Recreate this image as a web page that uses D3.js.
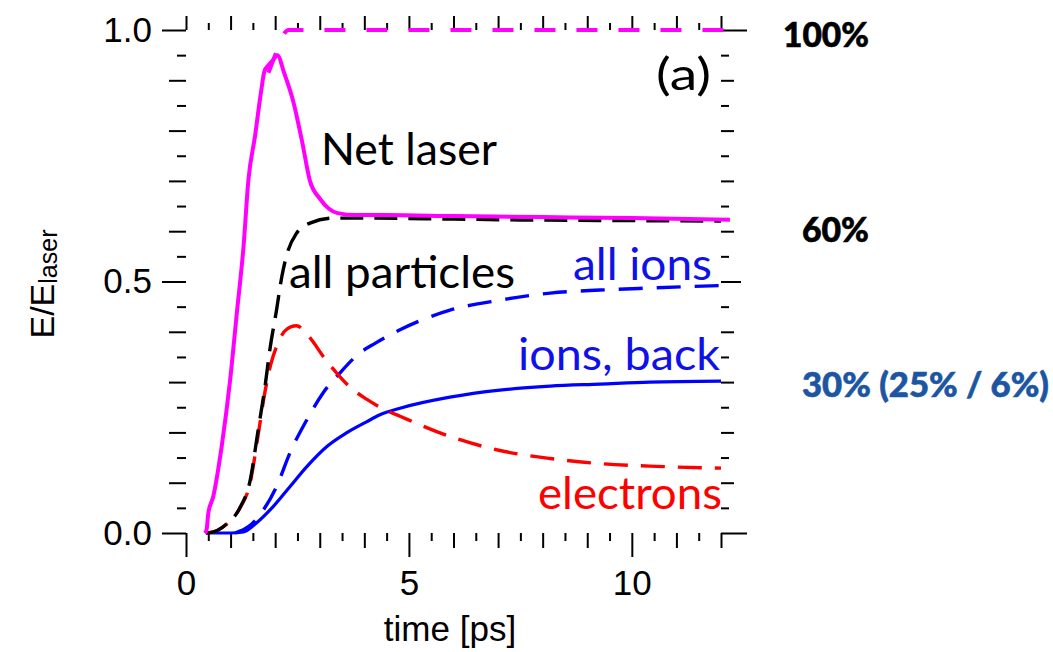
<!DOCTYPE html>
<html>
<head>
<meta charset="utf-8">
<script src="https://cdn.jsdelivr.net/npm/d3@7/dist/d3.min.js"></script>
<style>
  html, body { margin: 0; padding: 0; background: #fff; }
  svg { display: block; }
</style>
</head>
<body>
<svg id="chart" width="1053" height="652"></svg>
<script>
// ---- data ----
const netLaserT = [0.42, 0.46, 0.5, 0.61, 0.8, 0.99, 1.14, 1.29, 1.4, 1.55, 1.68, 1.76, 1.85, 1.95, 2.05, 2.2, 2.4, 2.6, 2.78, 3.0, 3.2, 3.4, 3.8, 4.5, 6, 8, 10, 12.2];
const netLaserE = [0.0, 0.006, 0.039, 0.072, 0.172, 0.304, 0.437, 0.569, 0.702, 0.79, 0.875, 0.918, 0.93, 0.94, 0.95, 0.915, 0.86, 0.78, 0.70, 0.665, 0.645, 0.636, 0.632, 0.632, 0.63, 0.628, 0.626, 0.623];

const totalLaserT = [1.85, 2.0, 2.15, 2.3, 12.2];
const totalLaserE = [0.915, 0.95, 0.985, 1.0, 1.0];

const allParticlesT = [0.45, 0.7, 0.94, 1.21, 1.44, 1.61, 1.77, 1.88, 2.03, 2.15, 2.26, 2.48, 2.78, 3.3, 4.05, 6, 8, 10, 12];
const allParticlesE = [0.0, 0.005, 0.02, 0.05, 0.105, 0.2, 0.29, 0.364, 0.443, 0.51, 0.553, 0.596, 0.616, 0.626, 0.626, 0.624, 0.622, 0.621, 0.62];

const electronsT = [0.45, 0.7, 0.94, 1.21, 1.44, 1.61, 1.77, 1.9, 2.05, 2.2, 2.35, 2.48, 2.65, 2.85, 3.07, 3.38, 3.68, 4.05, 4.46, 4.8, 5.92, 7.04, 8.17, 9.29, 10.4, 12];
const electronsE = [0.0, 0.005, 0.02, 0.05, 0.1, 0.19, 0.28, 0.335, 0.375, 0.4, 0.41, 0.412, 0.402, 0.38, 0.352, 0.318, 0.29, 0.266, 0.245, 0.232, 0.192, 0.164, 0.148, 0.138, 0.133, 0.129];

const allIonsT = [1.1, 1.4, 1.73, 2.03, 2.33, 2.71, 3.07, 3.45, 3.9, 4.24, 4.8, 5.92, 7.04, 8.17, 9.29, 10.4, 12];
const allIonsE = [0.0, 0.0125, 0.045, 0.092, 0.159, 0.225, 0.278, 0.318, 0.358, 0.377, 0.404, 0.443, 0.463, 0.477, 0.483, 0.487, 0.492];

const ionsBackT = [0.45, 1.0, 1.29, 1.58, 1.95, 2.33, 2.71, 3.16, 3.6, 4.05, 4.35, 4.8, 5.92, 7.04, 8.17, 9.29, 10.4, 12];
const ionsBackE = [0.0, 0.0, 0.002, 0.02, 0.052, 0.092, 0.132, 0.172, 0.199, 0.221, 0.235, 0.248, 0.27, 0.284, 0.292, 0.296, 0.3, 0.302];

const xTickValues = [0, 5, 10];
const xTickLabels = ["0", "5", "10"];
const yTickValues = [0, 0.5, 1.0];
const yTickLabels = ["0.0", "0.5", "1.0"];

const curveLabels = ["Net laser", "all particles", "all ions", "ions, back", "electrons", "(a)"];
const sideLabels = ["100%", "60%", "30% (25% / 6%)"];

// ---- layout ----
const svg = d3.select("#chart");
const x = d3.scaleLinear().domain([0, 12]).range([186, 721]);
const y = d3.scaleLinear().domain([0, 1]).range([533, 30]);

const halfSteps = d3.range(0.5, 12, 1);
const intSteps = d3.range(0, 13, 1).filter(v => v % 5 !== 0 || v === 12);
const yFine = d3.range(0.05, 1, 0.1).map(v => +v.toFixed(2));
const yTenth = [0.1, 0.2, 0.3, 0.4, 0.6, 0.7, 0.8, 0.9];

function styleAxis(g) {
  g.select(".domain").remove();
  g.selectAll(".tick line").attr("stroke", "#000").attr("stroke-width", 2);
  g.selectAll(".tick text").attr("fill", "#000");
}

// bottom axis
svg.append("g").attr("transform", "translate(0,533)")
  .call(d3.axisBottom(x).tickValues(halfSteps).tickSize(8).tickFormat("")).call(styleAxis);
svg.append("g").attr("transform", "translate(0,533)")
  .call(d3.axisBottom(x).tickValues(intSteps).tickSize(15).tickFormat("")).call(styleAxis);
svg.append("g").attr("transform", "translate(0,533)")
  .call(d3.axisBottom(x).tickValues(xTickValues).tickSize(24).tickPadding(13)
    .tickFormat((d, i) => xTickLabels[i]))
  .call(styleAxis)
  .call(g => g.selectAll(".tick text").attr("font-family", "Liberation Sans, Arial, sans-serif").attr("font-size", 35));

// top axis
svg.append("g").attr("transform", "translate(0,30)")
  .call(d3.axisTop(x).tickValues(halfSteps).tickSize(7).tickFormat("")).call(styleAxis);
svg.append("g").attr("transform", "translate(0,30)")
  .call(d3.axisTop(x).tickValues(d3.range(0, 13, 1)).tickSize(14).tickFormat("")).call(styleAxis);

// left axis
svg.append("g").attr("transform", "translate(186,0)")
  .call(d3.axisLeft(y).tickValues(yFine).tickSize(9).tickFormat("")).call(styleAxis);
svg.append("g").attr("transform", "translate(186,0)")
  .call(d3.axisLeft(y).tickValues(yTenth).tickSize(17).tickFormat("")).call(styleAxis);
svg.append("g").attr("transform", "translate(186,0)")
  .call(d3.axisLeft(y).tickValues(yTickValues).tickSize(24).tickPadding(10)
    .tickFormat((d, i) => yTickLabels[i]))
  .call(styleAxis)
  .call(g => g.selectAll(".tick text").attr("font-family", "Liberation Sans, Arial, sans-serif").attr("font-size", 35));

// right axis
svg.append("g").attr("transform", "translate(721,0)")
  .call(d3.axisRight(y).tickValues(yFine).tickSize(8).tickFormat("")).call(styleAxis);
svg.append("g").attr("transform", "translate(721,0)")
  .call(d3.axisRight(y).tickValues(yTenth).tickSize(13).tickFormat("")).call(styleAxis);
svg.append("g").attr("transform", "translate(721,0)")
  .call(d3.axisRight(y).tickValues([0.5]).tickSize(20).tickFormat("")).call(styleAxis);
svg.append("g").attr("transform", "translate(721,0)")
  .call(d3.axisRight(y).tickValues([0, 1]).tickSize(26).tickFormat("")).call(styleAxis);

// ---- curves ----
function series(ts, es) { return ts.map((t, i) => [t, es[i]]); }
const line = d3.line().x(d => x(d[0])).y(d => y(d[1])).curve(d3.curveMonotoneX);

const curves = [
  { data: series(ionsBackT, ionsBackE), color: "#0000ff", width: 3.2, dash: null },
  { data: series(allIonsT, allIonsE), color: "#0000ff", width: 3.4, dash: "24,14" },
  { data: series(electronsT, electronsE), color: "#ff0000", width: 3.4, dash: "24,13" },
  { data: series(allParticlesT, allParticlesE), color: "#000000", width: 3.4, dash: "23,11" },
  { data: series(totalLaserT, totalLaserE), color: "#ff00ff", width: 4, dash: "21,21" },
  { data: series(netLaserT, netLaserE), color: "#ff00ff", width: 4, dash: null }
];

curves.forEach(c => {
  svg.append("path")
    .datum(c.data)
    .attr("d", line)
    .attr("fill", "none")
    .attr("stroke", c.color)
    .attr("stroke-width", c.width)
    .attr("stroke-dasharray", c.dash)
    .attr("stroke-linejoin", "round");
});

// ---- in-plot labels ----
const labelFont = "Lato, 'Open Sans', sans-serif";
const inLabels = [
  { text: curveLabels[0], x: 321, y: 165, w: 176, color: "#000" },
  { text: curveLabels[1], x: 289, y: 288, w: 226, color: "#000" },
  { text: curveLabels[2], x: 573, y: 280, w: 139, color: "#1010e8" },
  { text: curveLabels[3], x: 518, y: 370, w: 202, color: "#1010e8" },
  { text: curveLabels[4], x: 538, y: 509, w: 184, color: "#ff0000" },
  { text: curveLabels[5], x: 656, y: 90, w: 55, color: "#000" }
];
inLabels.forEach(l => {
  svg.append("text")
    .attr("x", l.x).attr("y", l.y)
    .attr("font-family", labelFont).attr("font-size", 44)
    .attr("fill", l.color)
    .attr("textLength", l.w).attr("lengthAdjust", "spacingAndGlyphs")
    .text(l.text);
});

// ---- side annotations ----
const sideDefs = [
  { text: sideLabels[0], x: 783, y: 47, w: 86, color: "#000" },
  { text: sideLabels[1], x: 802, y: 242, w: 67, color: "#000" },
  { text: sideLabels[2], x: 802, y: 397, w: 247, color: "#1c56a3" }
];
sideDefs.forEach(l => {
  svg.append("text")
    .attr("x", l.x).attr("y", l.y)
    .attr("font-family", labelFont).attr("font-weight", "900").attr("font-size", 34)
    .attr("fill", l.color)
    .attr("stroke", l.color).attr("stroke-width", 0.6)
    .attr("textLength", l.w).attr("lengthAdjust", "spacingAndGlyphs")
    .text(l.text);
});

// ---- axis titles ----
svg.append("text")
  .attr("x", 450).attr("y", 641)
  .attr("text-anchor", "middle")
  .attr("font-family", "Liberation Sans, Arial, sans-serif").attr("font-size", 35)
  .attr("fill", "#000")
  .text("time [ps]");

const yTitle = svg.append("text")
  .attr("transform", "translate(54,284) rotate(-90)")
  .attr("text-anchor", "middle")
  .attr("font-family", "Liberation Sans, Arial, sans-serif").attr("font-size", 34)
  .attr("fill", "#000");
yTitle.append("tspan").text("E/E");
yTitle.append("tspan").attr("font-size", 25).attr("dy", 3).text("laser");
</script>
</body>
</html>
